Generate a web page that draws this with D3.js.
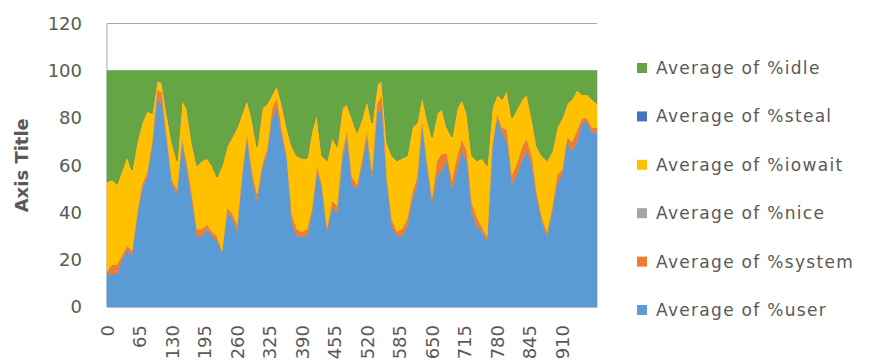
<!DOCTYPE html>
<html>
<head>
<meta charset="utf-8">
<script src="https://cdn.jsdelivr.net/npm/d3@7"></script>
<style>
    html, body { margin: 0; padding: 0; background: #fff; }
    svg { display: block; font-family: "DejaVu Sans", sans-serif; }
</style>
</head>
<body>
<svg id="chart" width="869" height="364"></svg>
<script>
// Sample positions (category index), one reading every 10 categories
const sampleIdx = d3.range(0, 981, 10);
const xTickValues = [0, 65, 130, 195, 260, 325, 390, 455, 520, 585, 650, 715, 780, 845, 910];
const yTickValues = [0, 20, 40, 60, 80, 100, 120];

// Series values (percent)
const user = [14, 14, 14, 20, 24, 22, 38, 50, 55, 68, 88, 86, 70, 52, 48, 70, 58, 45, 30, 30,
    33, 30, 28, 23, 40, 38, 32, 55, 72, 55, 45, 58, 65, 80, 84, 72, 62, 35, 30, 30,
    30, 40, 58, 50, 32, 42, 40, 62, 72, 52, 50, 60, 72, 55, 82, 84, 52, 34, 30, 30,
    34, 45, 52, 78, 60, 44, 56, 58, 62, 50, 58, 66, 62, 40, 34, 32, 28, 66, 80,
    74, 70, 52, 56, 62, 66, 60, 46, 36, 30, 40, 52, 56, 70, 66, 70, 78, 78, 74, 74];
const system = [1, 4, 4, 2, 2, 2, 2, 2, 2, 2, 4, 5, 2, 2, 2, 2, 3, 3, 3, 3,
    2, 2, 2, 1, 2, 2, 3, 2, 2, 3, 3, 2, 2, 4, 5, 3, 2, 4, 3, 2,
    3, 2, 2, 2, 2, 3, 3, 3, 3, 3, 2, 3, 3, 3, 4, 6, 3, 3, 2, 3,
    3, 3, 3, 2, 2, 3, 6, 7, 3, 4, 6, 5, 4, 4, 4, 2, 2, 2, 2,
    2, 5, 4, 5, 6, 5, 4, 2, 2, 2, 2, 4, 2, 2, 4, 5, 2, 2, 2, 2];
const iowait = [38, 36, 34, 36, 38, 34, 30, 26, 26, 12, 4, 4, 10, 16, 12, 16, 23, 22, 27, 29,
    28, 28, 25, 36, 26, 32, 41, 25, 14, 22, 20, 24, 19, 6, 5, 11, 12, 29, 31, 31,
    30, 33, 22, 12, 28, 27, 25, 19, 11, 25, 22, 17, 13, 20, 8, 6, 15, 27, 30, 30,
    27, 28, 23, 10, 18, 25, 20, 19, 11, 18, 20, 17, 16, 20, 24, 29, 30, 16, 8,
    12, 17, 24, 23, 20, 19, 16, 20, 26, 30, 24, 20, 22, 14, 18, 17, 10, 10, 12, 10];
const idle = [47, 46, 48, 42, 36, 42, 30, 22, 17, 18, 4, 5, 18, 30, 38, 12, 16, 30, 40, 38,
    37, 40, 45, 40, 32, 28, 24, 18, 12, 20, 32, 16, 14, 10, 6, 14, 24, 32, 36, 37,
    37, 25, 18, 36, 38, 28, 32, 16, 14, 20, 26, 20, 12, 22, 6, 4, 30, 36, 38, 37,
    36, 24, 22, 10, 20, 28, 18, 16, 24, 28, 16, 12, 18, 36, 38, 37, 40, 16, 10,
    12, 8, 20, 16, 12, 10, 20, 32, 36, 38, 34, 24, 20, 14, 12, 8, 10, 10, 12, 14];
// nice and steal read as zero all the way across
const nice = user.map(() => 0);
const steal = user.map(() => 0);

// Stack order (bottom to top) and colours, Excel default palette
const series = [
    { key: 'user',   label: 'Average of %user',   color: '#5B9BD5', values: user },
    { key: 'system', label: 'Average of %system', color: '#ED7D31', values: system },
    { key: 'nice',   label: 'Average of %nice',   color: '#A5A5A5', values: nice },
    { key: 'iowait', label: 'Average of %iowait', color: '#FFC000', values: iowait },
    { key: 'steal',  label: 'Average of %steal',  color: '#4472C4', values: steal },
    { key: 'idle',   label: 'Average of %idle',   color: '#66A544', values: idle }
];

const margin = { top: 23.5, left: 107 };
const width = 490;
const height = 283.5;
const textColor = '#595959';

const svg = d3.select('#chart');
const g = svg.append('g').attr('transform', `translate(${margin.left},${margin.top})`);

const x = d3.scaleLinear().domain([0, 980]).range([0, width]);
const y = d3.scaleLinear().domain([0, 120]).range([height, 0]);

// Build rows for the stack
const rows = sampleIdx.map((idx, i) => {
    const row = { idx };
    series.forEach(s => { row[s.key] = s.values[i]; });
    return row;
});
const stacked = d3.stack().keys(series.map(s => s.key))(rows);

// Gridlines (only the top one shows above the areas)
g.append('g')
    .selectAll('line')
    .data(yTickValues)
    .join('line')
    .attr('x1', 0)
    .attr('x2', width)
    .attr('y1', d => y(d))
    .attr('y2', d => y(d))
    .attr('stroke', '#a6a6a6')
    .attr('stroke-width', 1);

g.append('line')
    .attr('x1', 0).attr('x2', 0)
    .attr('y1', 0).attr('y2', height)
    .attr('stroke', '#a6a6a6');

// Stacked areas
const area = d3.area()
    .x(d => x(d.data.idx))
    .y0(d => y(d[0]))
    .y1(d => y(d[1]));

g.selectAll('.layer')
    .data(stacked)
    .join('path')
    .attr('class', 'layer')
    .attr('fill', (d, i) => series[i].color)
    .attr('stroke', (d, i) => series[i].color)
    .attr('stroke-width', 0.6)
    .attr('d', area);

// Y axis labels
const yAxis = d3.axisLeft(y).tickValues(yTickValues).tickSize(0).tickPadding(25);
const yAxisG = g.append('g').call(yAxis);
yAxisG.select('.domain').remove();
yAxisG.selectAll('text')
    .attr('fill', textColor)
    .style('font-size', '18px')
    .style('font-family', '"DejaVu Sans", sans-serif');

// X axis labels, rotated
const xAxis = d3.axisBottom(x).tickValues(xTickValues).tickSize(0);
const xAxisG = g.append('g')
    .attr('transform', `translate(0,${height})`)
    .call(xAxis);
xAxisG.select('.domain').remove();
xAxisG.selectAll('text')
    .attr('fill', textColor)
    .style('font-size', '18px')
    .style('font-family', '"DejaVu Sans", sans-serif')
    .attr('transform', 'rotate(-90)')
    .attr('text-anchor', 'end')
    .attr('x', -18)
    .attr('y', 0)
    .attr('dy', '0.35em');

// Y axis title
svg.append('text')
    .attr('transform', `translate(28,${margin.top + height / 2}) rotate(-90)`)
    .attr('text-anchor', 'middle')
    .attr('fill', textColor)
    .attr('font-size', '18px')
    .attr('font-weight', 'bold')
    .text('Axis Title');

// Legend (reverse of stack order)
const legend = svg.append('g').attr('transform', 'translate(637,0)');
const legendItems = legend.selectAll('.legend-item')
    .data(series.slice().reverse())
    .join('g')
    .attr('class', 'legend-item')
    .attr('transform', (d, i) => `translate(0,${68 + i * 48.4})`);

legendItems.append('rect')
    .attr('x', 0)
    .attr('y', -5)
    .attr('width', 10)
    .attr('height', 10)
    .attr('fill', d => d.color);

legendItems.append('text')
    .attr('x', 19)
    .attr('y', 0)
    .attr('dy', '0.35em')
    .attr('fill', textColor)
    .attr('font-size', '17px')
    .attr('letter-spacing', '1.3px')
    .text(d => d.label);
</script>
</body>
</html>
